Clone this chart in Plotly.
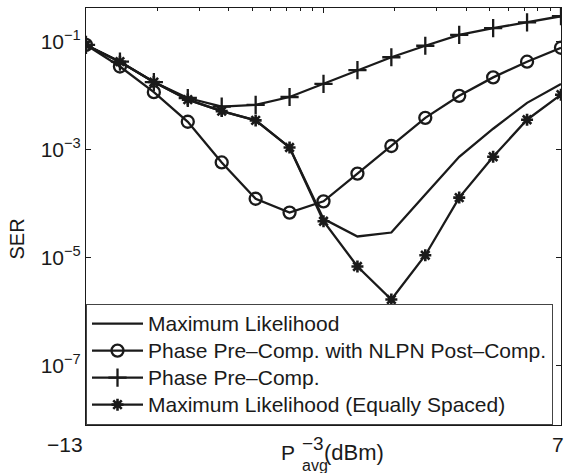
import plotly.graph_objects as go
import math

# ---- data ----
p_avg = [-13, -11.571, -10.143, -8.714, -7.286, -5.857, -4.429, -3.0,
         -1.571, -0.143, 1.286, 2.714, 4.143, 5.571, 7]

ser_ml = [8.8e-2, 4.3e-2, 1.8e-2, 8.5e-3, 5.2e-3, 3.5e-3, 1.1e-3, 5.2e-5,
          2.45e-5, 2.9e-5, 1.48e-4, 7.4e-4, 2.45e-3, 7.4e-3, 1.66e-2]
ser_pre_nlpn = [8.8e-2, 3.5e-2, 1.17e-2, 3.3e-3, 5.8e-4, 1.23e-4, 6.8e-5, 1.1e-4,
                3.6e-4, 1.17e-3, 3.9e-3, 1.0e-2, 2.2e-2, 4.3e-2, 7.8e-2]
ser_pre = [8.8e-2, 4.3e-2, 1.8e-2, 9.1e-3, 6.3e-3, 6.8e-3, 9.5e-3, 1.66e-2,
           3.0e-2, 5.2e-2, 8.5e-2, 1.35e-1, 1.8e-1, 2.3e-1, 3.0e-1]
ser_ml_eq = [8.8e-2, 4.3e-2, 1.8e-2, 8.5e-3, 5.2e-3, 3.5e-3, 1.1e-3, 4.7e-5,
             6.8e-6, 1.66e-6, 1.1e-5, 1.29e-4, 7.4e-4, 3.6e-3, 1.05e-2]

names = ["Maximum Likelihood",
         "Phase Pre\u2013Comp. with NLPN Post\u2013Comp.",
         "Phase Pre\u2013Comp.",
         "Maximum Likelihood (Equally Spaced)"]

y_tickvals = [1e-1, 1e-3, 1e-5, 1e-7]
y_ticktext = ["10<sup>\u22121</sup>", "10<sup>\u22123</sup>",
              "10<sup>\u22125</sup>", "10<sup>\u22127</sup>"]
x_tickvals = [-13, 7]
x_ticktext = ["\u221213", "7"]

# top-edge tick marks follow a two-decade log pattern
x_major_marks = [-13, -3, 7]
x_minor_marks = [m + 10 * math.log10(k) for m in (-13, -3) for k in range(2, 10)]

FONT = "Liberation Sans, Arial, Helvetica, sans-serif"
BLACK = "#1a1a1a"


def big(label):
    # legend rows are spaced by the legend font size; the text is drawn larger
    return '<span style="font-size:21px">' + label + "</span>"


fig = go.Figure()
fig.add_trace(go.Scatter(x=p_avg, y=ser_ml, mode="lines", name=big(names[0]),
                         line=dict(color=BLACK, width=2.3)))
fig.add_trace(go.Scatter(x=p_avg, y=ser_pre_nlpn, mode="lines+markers", name=big(names[1]),
                         line=dict(color=BLACK, width=2.3),
                         marker=dict(symbol="circle-open", size=12, color=BLACK,
                                     line=dict(width=2.3, color=BLACK))))
fig.add_trace(go.Scatter(x=p_avg, y=ser_pre, mode="lines+markers", name=big(names[2]),
                         line=dict(color=BLACK, width=2.3),
                         marker=dict(symbol="cross-thin-open", size=13, color=BLACK,
                                     line=dict(width=2.3, color=BLACK))))
fig.add_trace(go.Scatter(x=p_avg, y=ser_ml_eq, mode="lines+markers", name=big(names[3]),
                         line=dict(color=BLACK, width=2.3),
                         marker=dict(symbol="asterisk-open", size=10, color=BLACK,
                                     line=dict(width=2.6, color=BLACK))))

fig.update_layout(
    width=564, height=473,
    margin=dict(l=86, r=3, t=8, b=48, autoexpand=False),
    paper_bgcolor="white", plot_bgcolor="white",
    font=dict(family=FONT, size=20, color=BLACK),
    showlegend=True,
    legend=dict(x=0, y=0, xanchor="left", yanchor="bottom",
                bgcolor="white", bordercolor="#444", borderwidth=1,
                font=dict(family=FONT, size=18.5, color=BLACK),
                itemwidth=51),
    xaxis=dict(range=[-13, 7], showgrid=False, zeroline=False, automargin=False,
               showline=True, linecolor=BLACK, linewidth=1, mirror="ticks",
               tickmode="array", tickvals=x_major_marks, ticks="inside",
               ticklen=5, tickcolor=BLACK, showticklabels=False,
               minor=dict(tickmode="array", tickvals=x_minor_marks,
                          ticks="inside", ticklen=3, tickcolor=BLACK)),
    yaxis=dict(type="log", range=[-8.11, -0.37], showgrid=False, zeroline=False,
               automargin=False,
               showline=True, linecolor=BLACK, linewidth=1, mirror="ticks",
               tickmode="array", tickvals=y_tickvals, ticktext=y_ticktext,
               ticks="inside", ticklen=5, tickcolor=BLACK,
               tickfont=dict(family=FONT, size=21, color=BLACK)),
)

ann = []
# x tick labels
ann.append(dict(text=x_ticktext[0], x=0, y=0, xref="paper", yref="paper",
                xanchor="right", yanchor="middle", xshift=-1, yshift=-19.5,
                showarrow=False, font=dict(size=21)))
ann.append(dict(text=x_ticktext[1], x=1, y=0, xref="paper", yref="paper",
                xanchor="center", yanchor="middle", xshift=-3, yshift=-19.5,
                showarrow=False, font=dict(size=21)))
# x axis label: P_avg^-3 (dBm)
ann.append(dict(text="P", x=0, y=0, xref="paper", yref="paper",
                xanchor="left", yanchor="middle", xshift=193, yshift=-27.5,
                showarrow=False, font=dict(size=21)))
ann.append(dict(text="\u22123", x=0, y=0, xref="paper", yref="paper",
                xanchor="left", yanchor="middle", xshift=214, yshift=-18.5,
                showarrow=False, font=dict(size=19)))
ann.append(dict(text="avg", x=0, y=0, xref="paper", yref="paper",
                xanchor="left", yanchor="middle", xshift=214, yshift=-40.5,
                showarrow=False, font=dict(size=16)))
ann.append(dict(text="(dBm)", x=0, y=0, xref="paper", yref="paper",
                xanchor="left", yanchor="middle", xshift=236, yshift=-27.5,
                showarrow=False, font=dict(size=22)))
# y axis label
ann.append(dict(text="SER", x=0, y=0.5, xref="paper", yref="paper",
                xanchor="center", yanchor="middle", xshift=-70, yshift=-23,
                textangle=-90, showarrow=False, font=dict(size=20)))
fig.update_layout(annotations=ann)

fig.write_html(
    "out.html",
    config={"displayModeBar": False},
    post_script="document.body.style.margin='0';document.body.style.overflow='hidden';",
)
